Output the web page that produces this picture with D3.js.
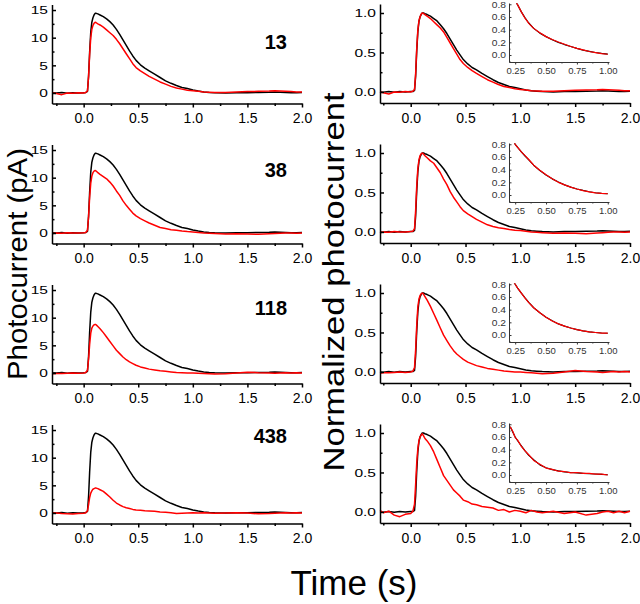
<!DOCTYPE html>
<html><head><meta charset="utf-8">
<script src="https://cdn.jsdelivr.net/npm/d3@7"></script>
<style>
body{margin:0;background:#fff}
svg{display:block}
text{font-family:"Liberation Sans",Arial,Helvetica,sans-serif}
</style>
</head><body>
<svg id="c" width="640" height="604"></svg>
<script>
// ---- data ----
const time = [-0.28,-0.25,-0.2,-0.15,-0.1,-0.05,0,0.02,0.035,0.045,0.055,0.065,0.075,0.085,0.095,0.105,0.115,0.13,0.15,0.18,0.21,0.24,0.27,0.3,0.33,0.36,0.39,0.42,0.45,0.48,0.52,0.56,0.6,0.65,0.7,0.75,0.8,0.85,0.9,0.95,1.0,1.05,1.1,1.15,1.2,1.3,1.4,1.5,1.6,1.7,1.75,1.8,1.85,1.9,1.95,2.0];

const blackPA = [0.05,0,0.1,-0.05,0.05,0,0.05, 0.1,0.3,3.0,7.5,11.0,12.8,13.6,14.1,14.4,14.4, 14.3,14.1,13.8,13.4,12.9,12.3,11.5,10.6,9.6,8.6,7.6,6.7,5.9, 5.1,4.5,4.0,3.4,2.8,2.2,1.75,1.35,1.0,0.8,0.55, 0.35,0.2,0.1,0.05,0,0.05,0.05,0.1,0.15,0.2,0.15,0.1,0.05,0.05,0.1];
const red13PA = [0,-0.1,-0.3,0,-0.05,0.05,0, 0.1,0.4,3.0,7.0,10.0,11.5,12.2,12.6,12.8,12.7, 12.5,12.3,11.9,11.4,10.9,10.4,9.7,8.9,8.0,7.1,6.2,5.3,4.6, 4.0,3.5,3.0,2.5,2.0,1.6,1.2,0.9,0.7,0.5,0.4, 0.3,0.2,0.15,0.1,0.1,0.2,0.25,0.3,0.35,0.4,0.35,0.3,0.25,0.2,0.2];
const red38PA = [-0.1,0,-0.05,0.05,0,0,0.05, 0.1,0.5,3.0,6.5,9.0,10.3,10.9,11.2,11.3,11.2, 10.9,10.6,10.2,9.8,9.2,8.5,7.6,6.8,5.8,5.0,4.3,3.6,3.1, 2.6,2.2,1.8,1.4,1.0,0.8,0.6,0.5,0.35,0.25,0.2, 0.1,0,-0.05,-0.1,-0.2,-0.15,-0.2,-0.25,-0.15,-0.1,-0.05,0,0,-0.05,0];
const red118PA = [-0.15,-0.1,-0.1,-0.05,0,-0.05,0, 0.1,0.5,2.5,5.2,7.2,8.1,8.5,8.7,8.8,8.7, 8.4,8.0,7.3,6.5,5.7,4.9,4.1,3.5,2.9,2.4,2.0,1.7,1.4, 1.1,0.9,0.7,0.55,0.4,0.3,0.2,0.1,0.05,0,0, -0.05,-0.1,-0.15,-0.2,-0.15,0,0.15,0.05,0,-0.05,0,0.05,0,0.05,0];
const red438PA = [0,0,-0.1,-0.15,-0.2,-0.1,-0.05, 0.05,0.4,1.5,2.8,3.6,4.0,4.3,4.4,4.5,4.5, 4.4,4.2,3.9,3.4,2.9,2.3,1.8,1.45,1.15,0.95,0.8,0.65,0.55, 0.5,0.4,0.35,0.3,0.2,0.15,0.05,-0.1,-0.05,0,0.05, 0,0.05,0,-0.05,0,0.05,0,-0.15,-0.1,-0.05,0,0.05,0,0.05,0];

const blackNorm = [0,-0.005,0.005,-0.005,0.005,0,0.005, 0.005,0.02,0.2,0.52,0.76,0.89,0.95,0.98,1.0,1.0, 0.99,0.98,0.96,0.93,0.9,0.85,0.8,0.74,0.67,0.6,0.53,0.47,0.41, 0.355,0.31,0.28,0.235,0.195,0.155,0.12,0.095,0.07,0.055,0.04, 0.025,0.015,0.01,0.005,0,0.005,0.005,0.01,0.012,0.015,0.012,0.008,0.005,0.005,0.008];
const red13Norm = [0,-0.01,-0.025,0,-0.005,0.005,0, 0.01,0.03,0.23,0.55,0.78,0.9,0.95,0.985,1.0,0.995, 0.98,0.96,0.93,0.89,0.85,0.81,0.76,0.69,0.62,0.55,0.48,0.41,0.36, 0.31,0.27,0.235,0.195,0.155,0.125,0.095,0.07,0.055,0.04,0.03, 0.025,0.015,0.012,0.008,0.008,0.015,0.02,0.025,0.028,0.032,0.028,0.024,0.02,0.016,0.016];
const red38Norm = [-0.01,0,-0.005,0.005,0,0,0.005, 0.01,0.04,0.27,0.58,0.8,0.91,0.965,0.99,1.0,0.99, 0.965,0.94,0.9,0.87,0.81,0.75,0.67,0.6,0.51,0.44,0.38,0.32,0.27, 0.23,0.195,0.16,0.125,0.09,0.07,0.053,0.044,0.031,0.022,0.018, 0.009,0,-0.004,-0.009,-0.018,-0.013,-0.018,-0.022,-0.013,-0.009,-0.004,0,0,-0.004,0];
const red118Norm = [-0.017,-0.011,-0.011,-0.006,0,-0.006,0, 0.011,0.057,0.28,0.59,0.82,0.92,0.966,0.99,1.0,0.99, 0.955,0.91,0.83,0.74,0.65,0.557,0.466,0.398,0.33,0.273,0.227,0.193,0.159, 0.125,0.102,0.08,0.0625,0.045,0.034,0.023,0.011,0.006,0,0, -0.006,-0.011,-0.017,-0.023,-0.017,0,0.017,0.006,0,-0.006,0,0.006,0,0.006,0];
const red438Norm = [0.02,-0.01,0.01,-0.04,-0.06,-0.03,-0.02, 0.01,0.1,0.35,0.62,0.8,0.9,0.95,0.97,0.99,0.97, 0.93,0.9,0.84,0.76,0.66,0.56,0.46,0.4,0.34,0.28,0.24,0.2,0.15, 0.13,0.1,0.09,0.07,0.06,0.05,0.02,0.03,0,0.02,0.01, -0.01,0.02,0,-0.01,0.01,-0.02,0,-0.04,-0.02,0,0.01,-0.01,0.01,-0.01,0.01];

const insetTime = [0.21,0.23,0.25,0.27,0.3,0.33,0.36,0.4,0.45,0.5,0.55,0.6,0.65,0.7,0.75,0.8,0.85,0.9,0.95,1.0];
const insetBlack13 = [0.98,0.92,0.86,0.79,0.68,0.585,0.505,0.42,0.345,0.29,0.24,0.2,0.165,0.135,0.105,0.078,0.058,0.04,0.026,0.015];
const insetRed13   = [0.98,0.92,0.86,0.79,0.68,0.58,0.5,0.42,0.35,0.29,0.245,0.205,0.17,0.135,0.105,0.08,0.055,0.038,0.022,0.012];
const insetBlack38 = [0.95,0.88,0.8,0.75,0.68,0.615,0.555,0.47,0.385,0.315,0.255,0.205,0.16,0.125,0.095,0.072,0.052,0.036,0.026,0.02];
const insetRed38   = [0.95,0.88,0.8,0.75,0.68,0.62,0.56,0.47,0.39,0.32,0.255,0.2,0.16,0.125,0.095,0.07,0.05,0.035,0.025,0.02];
const insetBlack118 = [0.95,0.87,0.8,0.74,0.66,0.585,0.515,0.43,0.35,0.28,0.225,0.175,0.14,0.11,0.085,0.066,0.05,0.04,0.032,0.028];
const insetRed118   = [0.95,0.87,0.8,0.74,0.66,0.58,0.51,0.43,0.35,0.28,0.22,0.175,0.14,0.11,0.085,0.065,0.05,0.04,0.03,0.03];
const insetBlack438 = [0.76,0.68,0.6,0.54,0.46,0.38,0.31,0.24,0.16,0.115,0.085,0.065,0.05,0.04,0.033,0.027,0.02,0.016,0.01,0.004];
const insetRed438   = [0.76,0.69,0.59,0.55,0.45,0.38,0.32,0.23,0.17,0.11,0.09,0.06,0.055,0.035,0.04,0.025,0.025,0.015,0.015,0.0];

const intensities = ["13","38","118","438"];
const labelBaseline = [49,37,35,23];
const leftRed = [red13PA, red38PA, red118PA, red438PA];
const rightRed = [red13Norm, red38Norm, red118Norm, red438Norm];
const insetBlack = [insetBlack13, insetBlack38, insetBlack118, insetBlack438];
const insetRed = [insetRed13, insetRed38, insetRed118, insetRed438];

const xMajor = [0, 0.5, 1.0, 1.5, 2.0];
const xMinor = [-0.25, 0.25, 0.75, 1.25, 1.75];
const yMajorPA = [0, 5, 10, 15];
const yMinorPA = [-2.5, 2.5, 7.5, 12.5];
const yMajorNorm = [0, 0.5, 1.0];
const yMinorNorm = [0.25, 0.75];
const insetXMajor = [0.25, 0.5, 0.75, 1.0];
const insetXMinor = [0.375, 0.625, 0.875];
const insetYMajor = [0, 0.2, 0.4, 0.6, 0.8];
const insetYMinor = [-0.1, 0.1, 0.3, 0.5, 0.7];

// ---- drawing ----
const svg = d3.select("#c");
const ROW = 140;

function stretch(sel, k){
  sel.each(function(){
    const L = this.getComputedTextLength();
    d3.select(this).attr("textLength", L*k).attr("lengthAdjust","spacingAndGlyphs");
  });
}

function axes(g, x, y, o){
  const y0 = y.range()[0], x0 = x.range()[0];
  const xa = g.append("g").attr("transform",`translate(0,${y0})`)
    .call(d3.axisBottom(x).tickValues(o.xMajor).tickFormat(d3.format(o.xFmt))
      .tickSizeInner(o.tMaj).tickSizeOuter(0).tickPadding(o.xPad));
  const xm = g.append("g").attr("transform",`translate(0,${y0})`)
    .call(d3.axisBottom(x).tickValues(o.xMinor).tickFormat("").tickSizeInner(o.tMin).tickSizeOuter(0));
  xm.select(".domain").remove();
  const ya = g.append("g").attr("transform",`translate(${x0},0)`)
    .call(d3.axisLeft(y).tickValues(o.yMajor).tickFormat(d3.format(o.yFmt))
      .tickSizeInner(-o.tMaj).tickSizeOuter(0).tickPadding(o.yPad));
  const ym = g.append("g").attr("transform",`translate(${x0},0)`)
    .call(d3.axisLeft(y).tickValues(o.yMinor.filter(v=>v>=y.domain()[0]&&v<=y.domain()[1])).tickFormat("").tickSizeInner(-o.tMin).tickSizeOuter(0));
  ym.select(".domain").remove();
  [xa,xm,ya,ym].forEach(a=>{
    a.selectAll("path,line").attr("stroke", o.color).attr("stroke-width", o.sw);
  });
  xa.selectAll("text").attr("font-size", o.xFs).attr("fill", o.color).attr("font-family",'"Liberation Sans",Arial,sans-serif');
  ya.selectAll("text").attr("font-size", o.yFs).attr("fill", o.color).attr("font-family",'"Liberation Sans",Arial,sans-serif');
  stretch(ya.selectAll("text"), o.yStretch);
}

function trace(g, x, y, xs, ys, color, w){
  const line = d3.line().x(d=>x(d[0])).y(d=>y(d[1]));
  g.append("path").datum(d3.zip(xs, ys)).attr("d", line)
    .attr("fill","none").attr("stroke",color).attr("stroke-width",w)
    .attr("stroke-linejoin","round");
}

const mainOpts = {xMajor, xMinor, xFmt:".1f", tMaj:4, tMin:2.5, xPad:6, color:"#000", sw:1.5, xFs:14, yFs:11.5, yPad:4, yStretch:1.35};

for (let r=0; r<4; r++){
  const oy = r*ROW;
  // left panel (pA)
  const gL = svg.append("g");
  const xL = d3.scaleLinear([-0.29, 2.0], [52, 302]);
  const yL = d3.scaleLinear([-1.9, 16], [103.5+oy, 4.5+oy]);
  trace(gL, xL, yL, time, blackPA, "#000", 1.5);
  trace(gL, xL, yL, time, leftRed[r], "#ff0000", 1.5);
  axes(gL, xL, yL, Object.assign({}, mainOpts, {yMajor:yMajorPA, yMinor:yMinorPA, yFmt:"d"}));
  gL.append("text").attr("x",287).attr("y",oy+labelBaseline[r]).attr("text-anchor","end")
    .attr("font-size",20).attr("font-weight","bold").text(intensities[r]);

  // right panel (normalized)
  const gR = svg.append("g");
  const xR = d3.scaleLinear([-0.28, 2.0], [380, 630]);
  const yR = d3.scaleLinear([-0.14, 1.114], [103+oy, 4+oy]);
  trace(gR, xR, yR, time, blackNorm, "#000", 1.5);
  trace(gR, xR, yR, time, rightRed[r], "#ff0000", 1.5);
  axes(gR, xR, yR, Object.assign({}, mainOpts, {yMajor:yMajorNorm, yMinor:yMinorNorm, yFmt:".1f"}));

  // inset
  const gI = svg.append("g");
  const xI = d3.scaleLinear([0.2, 1.01], [509, 609]);
  const yI = d3.scaleLinear([-0.11, 0.82], [62+oy, 3+oy]);
  const cid = "clip"+r;
  gI.append("clipPath").attr("id",cid).append("rect")
    .attr("x",xI(0.2)).attr("y",yI(0.815)).attr("width",xI(1.01)-xI(0.2)).attr("height",yI(-0.11)-yI(0.815));
  const gc = gI.append("g").attr("clip-path",`url(#${cid})`);
  trace(gc, xI, yI, insetTime, insetBlack[r], "#000", 1.2);
  trace(gc, xI, yI, insetTime, insetRed[r], "#ff0000", 1.2);
  axes(gI, xI, yI, {xMajor:insetXMajor, xMinor:insetXMinor, xFmt:".2f", tMaj:2.5, tMin:1.5, xPad:3,
    color:"#333", sw:1, xFs:9.5, yFs:9.2, yPad:3, yStretch:1.12, yMajor:insetYMajor, yMinor:insetYMinor, yFmt:".1f"});
}

// axis titles
svg.append("text").attr("transform","translate(26.5,264) rotate(-90)").attr("text-anchor","middle")
  .attr("font-size",28.5).attr("textLength",232).attr("lengthAdjust","spacingAndGlyphs").text("Photocurrent (pA)");
svg.append("text").attr("transform","translate(344,282) rotate(-90)").attr("text-anchor","middle")
  .attr("font-size",29).attr("textLength",379).attr("lengthAdjust","spacingAndGlyphs").text("Normalized photocurrent");
svg.append("text").attr("x",354).attr("y",595).attr("text-anchor","middle")
  .attr("font-size",35).text("Time (s)");
</script>
</body></html>
